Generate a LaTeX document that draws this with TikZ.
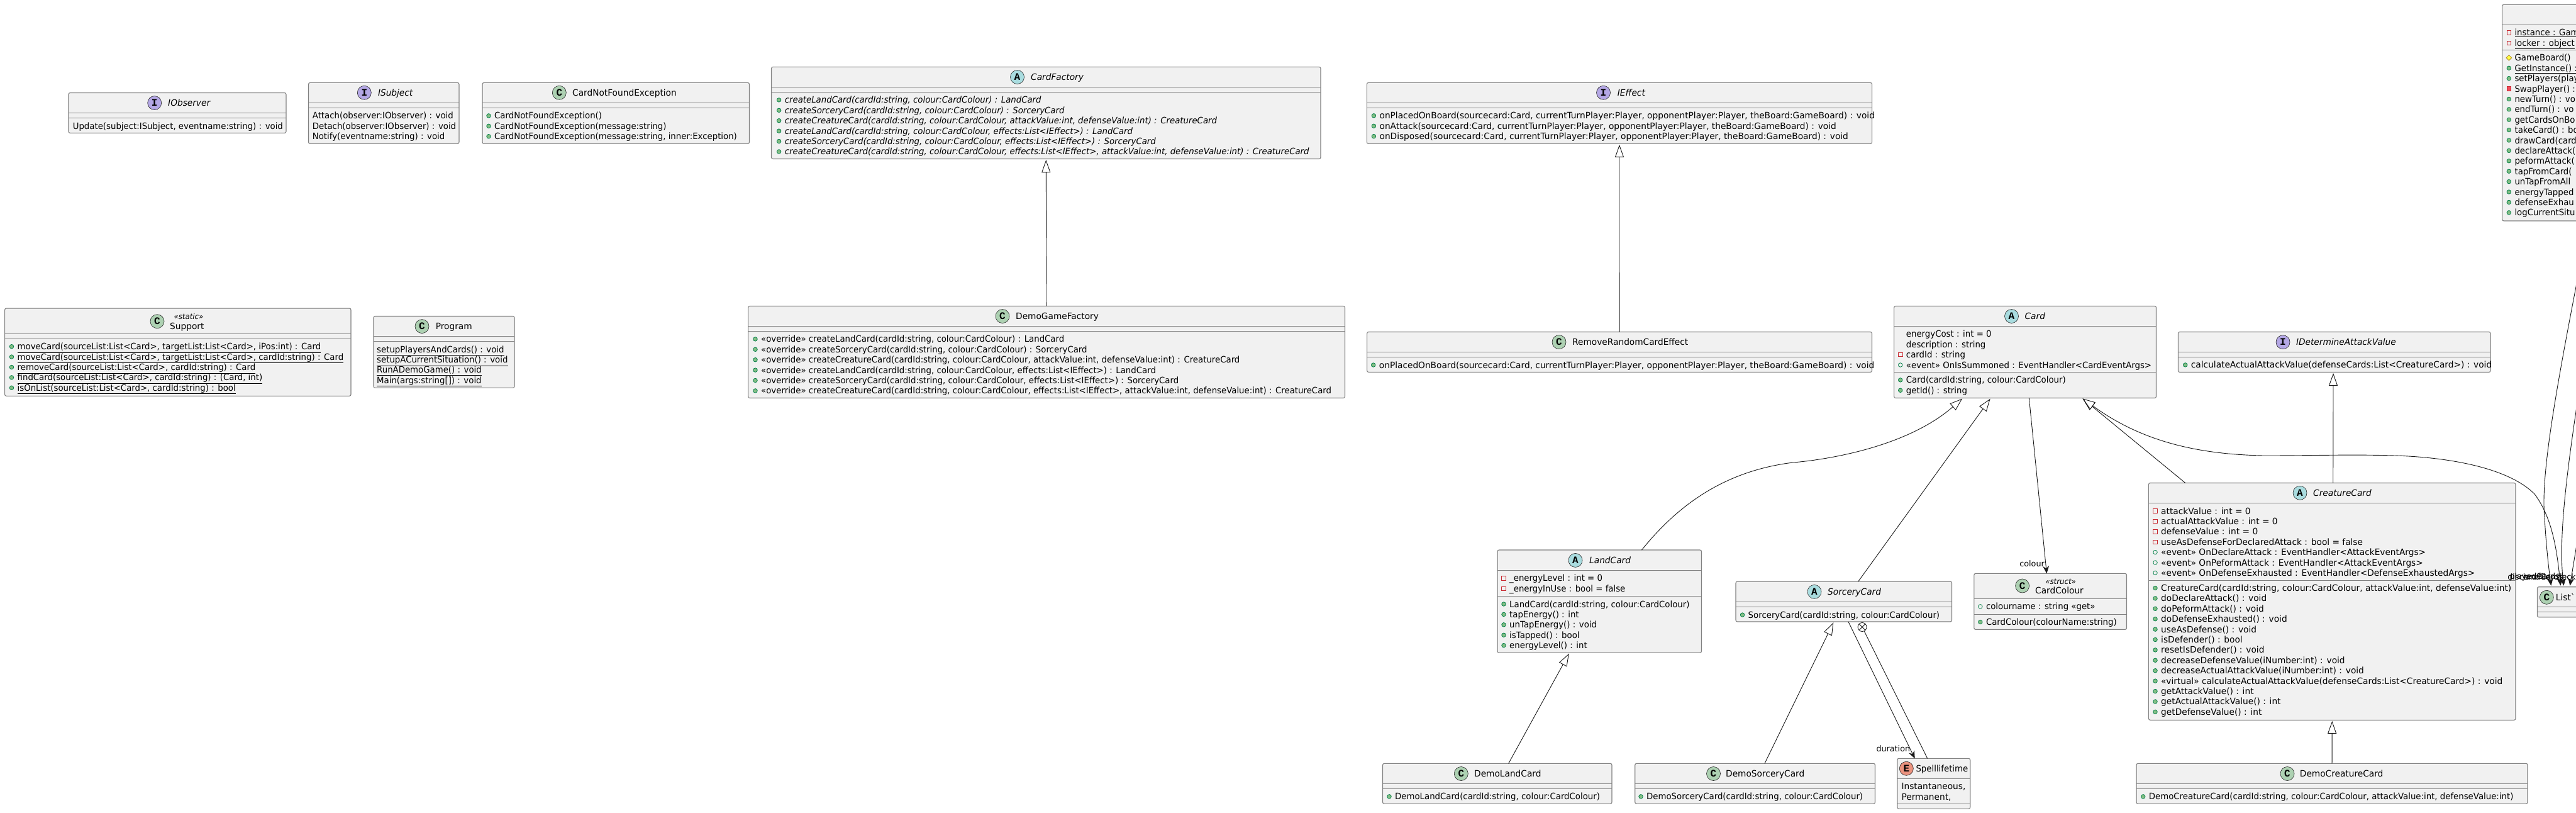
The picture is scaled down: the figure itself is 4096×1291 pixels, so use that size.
\documentclass[tikz,border=0pt]{standalone}
\usepackage{fontspec}
\setmainfont[FakeStretch=0.98]{DejaVu Sans}
\newfontfamily\narrowfont[FakeStretch=0.95]{DejaVu Sans}
\setmonofont{Liberation Mono}
\usetikzlibrary{calc,arrows.meta,shapes.geometric}

\tikzset{
    classnode/.style={draw=black!50, fill=black!5.5, line width=1.1pt, rounded corners=2.5pt, inner sep=0pt, outer sep=0pt, anchor=north west},
    classline/.style={draw=black!50, line width=1pt},
    badge/.style={circle, draw=black!85, line width=.6pt, minimum size=22pt, inner sep=0pt, font=\fontsize{16}{16}\selectfont\ttfamily\bfseries},
    badgeC/.style={badge, fill=BadgeC},
    badgeA/.style={badge, fill=BadgeA},
    badgeI/.style={badge, fill=BadgeI},
    badgeE/.style={badge, fill=BadgeE},
    rowtext/.style={anchor=base west, inner sep=0pt, font=\fontsize{14}{16}\selectfont},
    slanted/.style={font=\fontsize{14}{16}\selectfont\itshape},
    narrow/.style={font=\fontsize{14}{16}\narrowfont},
    narrowslanted/.style={font=\fontsize{14}{16}\narrowfont\itshape},
    stereo/.style={anchor=center, inner sep=0pt, font=\fontsize{12}{14}\selectfont\itshape},
    linklabel/.style={inner sep=0pt, font=\fontsize{13}{15}\selectfont},
    vpubm/.style={circle, draw=PubEdge, fill=PubFill, line width=.8pt, minimum size=6.5pt, inner sep=0pt},
    vpubf/.style={circle, draw=PubEdge, line width=.8pt, minimum size=6.5pt, inner sep=0pt},
    vprif/.style={rectangle, draw=PriEdge, line width=.8pt, minimum size=6.5pt, inner sep=0pt},
    vprim/.style={rectangle, draw=PriEdge, fill=PriFill, line width=.8pt, minimum size=6.5pt, inner sep=0pt},
    vprom/.style={diamond, draw=ProEdge, fill=ProFill, line width=.8pt, minimum size=9pt, inner sep=0pt},
    vnil/.style={draw=none, fill=none, minimum size=1pt, inner sep=0pt},
    nestmark/.style={circle, draw=black!90, fill=white, line width=.8pt, minimum size=14pt, inner sep=0pt,
        path picture={
            \draw[line width=.8pt] (path picture bounding box.north west) -- (path picture bounding box.south east);
            \draw[line width=.8pt] (path picture bounding box.north east) -- (path picture bounding box.south west);
        }},
    link/.style={draw=black!90, line width=.9pt},
    gentip/.tip={Triangle[open, length=20pt, width=14pt, fill=white]},
    veetip/.tip={Stealth[length=12pt, width=10pt, inset=4pt]},
}
\definecolor{BadgeC}{HTML}{ADD1B2}
\definecolor{BadgeA}{HTML}{A9DCDF}
\definecolor{BadgeI}{HTML}{B4A7E5}
\definecolor{BadgeE}{HTML}{EB937F}
\definecolor{PubEdge}{HTML}{038048}
\definecolor{PubFill}{HTML}{84BE84}
\definecolor{PriEdge}{HTML}{C82930}
\definecolor{PriFill}{HTML}{F24D5C}
\definecolor{ProEdge}{HTML}{B38D22}
\definecolor{ProFill}{HTML}{FFFF44}

% name, left, top, right, bottom, first line, second line
\newcommand{\classbox}[7]{
    \node[classnode, minimum width={(#4-#2)*1pt}, minimum height={(#5-#3)*1pt}] (#1) at (#2,#3) {};
    \draw[classline] (#1.west |- 0,#6) -- (#1.east |- 0,#6);
    \draw[classline] (#1.west |- 0,#7) -- (#1.east |- 0,#7);
}
% name, badge style, letter, badge at, title at, title style, title
\newcommand{\classhead}[7]{
    \node[#2] (#1Badge) at #4 {#3};
    \node[rowtext, #6] (#1Title) at #5 {#7};
}
% prefix, text x, line above, text style, list of icon/text
\newcommand{\classrows}[5]{
    \foreach \vis/\txt [count=\rownum] in {#5} {
        \node[rowtext, #4] (#1Row\rownum) at (#2,{#3+17.5+(\rownum-1)*16.4}) {\txt};
        \node[\vis] (#1Icon\rownum) at ({#2-9},{#3+12.5+(\rownum-1)*16.4}) {};
    }
}

\begin{document}
\begin{tikzpicture}[x=1pt, y=-1pt]
    \useasboundingbox (0,0) rectangle (4096,1291);
    \clip (0,0) rectangle (4096,1291);

    \classbox{IObserver}{109}{147.5}{455}{211.4}{179.3}{187.5}
    \classhead{IObserver}{badgeI}{I}{(245.7,163.6)}{(267,168.4)}{slanted}{IObserver}
    \classrows{IObserver}{115.6}{187.5}{narrow}{vnil/{Update(subject:ISubject, eventname:string) : void}}

    \classbox{ISubject}{490.5}{131.4}{730}{228.3}{163.3}{171.4}
    \classhead{ISubject}{badgeI}{I}{(579.3,147.3)}{(600.8,152.1)}{slanted}{ISubject}
    \classrows{ISubject}{496.7}{171.4}{narrow}{
        vnil/{Attach(observer:IObserver) : void},
        vnil/{Detach(observer:IObserver) : void},
        vnil/{Notify(eventname:string) : void}}

    \classbox{CardNotFoundException}{767}{131.4}{1191.5}{228.3}{163.3}{171.4}
    \classhead{CardNotFoundException}{badgeC}{C}{(889.3,147.3)}{(910,152.1)}{}{CardNotFoundException}
    \classrows{CardNotFoundException}{786}{171.4}{narrow}{
        vpubm/{CardNotFoundException()},
        vpubm/{CardNotFoundException(message:string)},
        vpubm/{CardNotFoundException(message:string, inner:Exception)}}

    \classbox{Support}{7.6}{490}{558}{629.3}{530}{538.2}
    \classhead{Support}{badgeC}{C}{(250,510.7)}{(270,523.4)}{}{Support}
    \node[stereo] (SupportStereo) at (300,503) {«static»};
    \classrows{Support}{27.5}{538.2}{narrow}{
        vpubm/{\underline{moveCard(sourceList:List<Card>, targetList:List<Card>, iPos:int) : Card}},
        vpubm/{\underline{moveCard(sourceList:List<Card>, targetList:List<Card>, cardId:string) : Card}},
        vpubm/{\underline{removeCard(sourceList:List<Card>, cardId:string) : Card}},
        vpubm/{\underline{findCard(sourceList:List<Card>, cardId:string) : (Card, int)}},
        vpubm/{\underline{isOnList(sourceList:List<Card>, cardId:string) : bool}}}

    \classbox{Program}{594}{502.5}{818}{616.4}{534}{542.5}
    \classhead{Program}{badgeC}{C}{(671,518.6)}{(692.6,523.4)}{}{Program}
    \classrows{Program}{599}{542.5}{narrow}{
        vnil/{\underline{setupPlayersAndCards() : void}},
        vnil/{\underline{setupACurrentSituation() : void}},
        vnil/{\underline{RunADemoGame() : void}},
        vnil/{\underline{Main(args:string[]) : void}}}

    \classbox{CardFactory}{1226.5}{106.4}{2100}{252.5}{138.3}{146.4}
    \classhead{CardFactory}{badgeA}{A}{(1617.5,122.5)}{(1639,127.3)}{slanted}{CardFactory}
    \classrows{CardFactory}{1247.6}{146.4}{narrowslanted}{
        vpubm/{createLandCard(cardId:string, colour:CardColour) : LandCard},
        vpubm/{createSorceryCard(cardId:string, colour:CardColour) : SorceryCard},
        vpubm/{createCreatureCard(cardId:string, colour:CardColour, attackValue:int, defenseValue:int) : CreatureCard},
        vpubm/{createLandCard(cardId:string, colour:CardColour, effects:List<IEffect>) : LandCard},
        vpubm/{createSorceryCard(cardId:string, colour:CardColour, effects:List<IEffect>) : SorceryCard},
        vpubm/{createCreatureCard(cardId:string, colour:CardColour, effects:List<IEffect>, attackValue:int, defenseValue:int) : CreatureCard}}

    \classbox{DemoGameFactory}{1189.6}{486.4}{2138.5}{632.5}{518.3}{526.4}
    \classhead{DemoGameFactory}{badgeC}{C}{(1594,502.5)}{(1615,507.3)}{}{DemoGameFactory}
    \classrows{DemoGameFactory}{1210}{526.4}{narrow}{
        vpubm/{«override» createLandCard(cardId:string, colour:CardColour) : LandCard},
        vpubm/{«override» createSorceryCard(cardId:string, colour:CardColour) : SorceryCard},
        vpubm/{«override» createCreatureCard(cardId:string, colour:CardColour, attackValue:int, defenseValue:int) : CreatureCard},
        vpubm/{«override» createLandCard(cardId:string, colour:CardColour, effects:List<IEffect>) : LandCard},
        vpubm/{«override» createSorceryCard(cardId:string, colour:CardColour, effects:List<IEffect>) : SorceryCard},
        vpubm/{«override» createCreatureCard(cardId:string, colour:CardColour, effects:List<IEffect>, attackValue:int, defenseValue:int) : CreatureCard}}

    \classbox{IEffect}{2173.3}{131.4}{2976.6}{228.3}{163.3}{171.3}
    \classhead{IEffect}{badgeI}{I}{(2549.5,147.3)}{(2571.7,152.1)}{slanted}{IEffect}
    \classrows{IEffect}{2193.4}{171.3}{}{
        vpubm/{onPlacedOnBoard(sourcecard:Card, currentTurnPlayer:Player, opponentPlayer:Player, theBoard:GameBoard) : void},
        vpubm/{onAttack(sourcecard:Card, currentTurnPlayer:Player, opponentPlayer:Player, theBoard:GameBoard) : void},
        vpubm/{onDisposed(sourcecard:Card, currentTurnPlayer:Player, opponentPlayer:Player, theBoard:GameBoard) : void}}

    \classbox{RemoveRandomCardEffect}{2173.6}{527.5}{2976.5}{591.4}{559.3}{567.5}
    \classhead{RemoveRandomCardEffect}{badgeC}{C}{(2479,543.6)}{(2500,548.4)}{}{RemoveRandomCardEffect}
    \classrows{RemoveRandomCardEffect}{2192.7}{567.5}{}{
        vpubm/{onPlacedOnBoard(sourcecard:Card, currentTurnPlayer:Player, opponentPlayer:Player, theBoard:GameBoard) : void}}

    \classbox{Card}{3011.6}{486.4}{3428.5}{632.5}{518.3}{591.4}
    \classhead{Card}{badgeA}{A}{(3198.5,502.5)}{(3219.4,507.3)}{slanted}{Card}
    \classrows{CardField}{3030.7}{518.3}{narrow}{
        vnil/{energyCost : int = 0},
        vnil/{description : string},
        vprif/{cardId : string},
        vpubf/{«event» OnIsSummoned : EventHandler<CardEventArgs>}}
    \classrows{CardMethod}{3030.7}{591.4}{narrow}{
        vpubm/{Card(cardId:string, colour:CardColour)},
        vpubm/{getId() : string}}

    \classbox{IDetermineAttackValue}{3463.4}{527.5}{3960}{591.5}{559.4}{567.4}
    \classhead{IDetermineAttackValue}{badgeI}{I}{(3630,543.7)}{(3650.8,548.5)}{slanted}{IDetermineAttackValue}
    \classrows{IDetermineAttackValue}{3483.7}{567.4}{}{
        vpubm/{calculateActualAttackValue(defenseCards:List<CreatureCard>) : void}}

    \classbox{CreatureCard}{3416.4}{767.5}{4000}{1144.3}{799.5}{922}
    \classhead{CreatureCard}{badgeA}{A}{(3657,783.3)}{(3678,788.1)}{slanted}{CreatureCard}
    \classrows{CreatureField}{3436}{799.5}{}{
        vprif/{attackValue : int = 0},
        vprif/{actualAttackValue : int = 0},
        vprif/{defenseValue : int = 0},
        vprif/{useAsDefenseForDeclaredAttack : bool = false},
        vpubf/{«event» OnDeclareAttack : EventHandler<AttackEventArgs>},
        vpubf/{«event» OnPeformAttack : EventHandler<AttackEventArgs>},
        vpubf/{«event» OnDefenseExhausted : EventHandler<DefenseExhaustedArgs>}}
    \classrows{CreatureMethod}{3436}{922}{}{
        vpubm/{CreatureCard(cardId:string, colour:CardColour, attackValue:int, defenseValue:int)},
        vpubm/{doDeclareAttack() : void},
        vpubm/{doPeformAttack() : void},
        vpubm/{doDefenseExhausted() : void},
        vpubm/{useAsDefense() : void},
        vpubm/{isDefender() : bool},
        vpubm/{resetIsDefender() : void},
        vpubm/{decreaseDefenseValue(iNumber:int) : void},
        vpubm/{decreaseActualAttackValue(iNumber:int) : void},
        vpubm/{«virtual» calculateActualAttackValue(defenseCards:List<CreatureCard>) : void},
        vpubm/{getAttackValue() : int},
        vpubm/{getActualAttackValue() : int},
        vpubm/{getDefenseValue() : int}}

    \classbox{LandCard}{2381}{874}{2705.5}{1037.3}{906.4}{947.5}
    \classhead{LandCard}{badgeA}{A}{(2505,890.4)}{(2527,895.2)}{slanted}{LandCard}
    \classrows{LandField}{2400}{906.4}{narrow}{
        vprif/{\_energyLevel : int = 0},
        vprif/{\_energyInUse : bool = false}}
    \classrows{LandMethod}{2400}{947.5}{narrow}{
        vpubm/{LandCard(cardId:string, colour:CardColour)},
        vpubm/{tapEnergy() : int},
        vpubm/{unTapEnergy() : void},
        vpubm/{isTapped() : bool},
        vpubm/{energyLevel() : int}}

    \classbox{SorceryCard}{2760}{924}{3103.5}{988}{956.4}{964.6}
    \classhead{SorceryCard}{badgeA}{A}{(2885,940.4)}{(2906,945.2)}{slanted}{SorceryCard}
    \classrows{SorceryCard}{2779.5}{964.6}{narrow}{vpubm/{SorceryCard(cardId:string, colour:CardColour)}}

    \classbox{CardColour}{3138.8}{911.4}{3381.5}{1000.4}{951.3}{976}
    \classhead{CardColour}{badgeC}{C}{(3215.6,931)}{(3236,943.6)}{}{CardColour}
    \node[stereo] (CardColourStereo) at (3276.6,924) {«struct»};
    \classrows{CardColourField}{3157.8}{951.3}{narrow}{vpubf/{colourname : string «get»}}
    \classrows{CardColourMethod}{3157.8}{976}{narrow}{vpubm/{CardColour(colourName:string)}}

    \classbox{DemoLandCard}{2198.5}{1213.3}{2563}{1277.3}{1245.3}{1253.3}
    \classhead{DemoLandCard}{badgeC}{C}{(2323.3,1229.5)}{(2344,1234.3)}{}{DemoLandCard}
    \classrows{DemoLandCard}{2218}{1253.3}{narrow}{vpubm/{DemoLandCard(cardId:string, colour:CardColour)}}

    \classbox{DemoSorceryCard}{2599.7}{1213.3}{2981.5}{1277.3}{1245.3}{1253.3}
    \classhead{DemoSorceryCard}{badgeC}{C}{(2724.5,1229.5)}{(2744,1234.3)}{}{DemoSorceryCard}
    \classrows{DemoSorceryCard}{2618}{1253.3}{narrow}{vpubm/{DemoSorceryCard(cardId:string, colour:CardColour)}}

    \classbox{Spelllifetime}{3016.7}{1205.3}{3132.7}{1285.3}{1237.3}{1277.3}
    \classhead{Spelllifetime}{badgeE}{E}{(3031.3,1221.3)}{(3046.3,1226.1)}{narrow}{Spelllifetime}
    \classrows{Spelllifetime}{3023.3}{1237.3}{}{
        vnil/{Instantaneous,},
        vnil/{Permanent,}}

    \classbox{DemoCreatureCard}{3397}{1213.3}{4019}{1277.3}{1245.3}{1253.3}
    \classhead{DemoCreatureCard}{badgeC}{C}{(3637,1229.5)}{(3656.7,1234.3)}{}{DemoCreatureCard}
    \classrows{DemoCreatureCard}{3416.7}{1253.3}{narrow}{
        vpubm/{DemoCreatureCard(cardId:string, colour:CardColour, attackValue:int, defenseValue:int)}}

    \classbox{List}{4034.3}{932.7}{4200}{980.7}{964}{972.7}
    \classhead{List}{badgeC}{C}{(4049.3,949.3)}{(4063.7,954.1)}{}{List\textasciigrave}

    \classbox{GameBoard}{3978.6}{7.3}{4400}{351}{39.3}{79.3}
    \classrows{GameBoardField}{3998.3}{39.3}{narrow}{
        vprif/{\underline{instance : Gam}},
        vprif/{\underline{locker : object}}}
    \classrows{GameBoardMethod}{3998.3}{79.3}{narrow}{
        vprom/{GameBoard()},
        vpubm/{\underline{GetInstance() :}},
        vpubm/{setPlayers(play},
        vprim/{SwapPlayer() :},
        vpubm/{newTurn() : vo},
        vpubm/{endTurn() : vo},
        vpubm/{getCardsOnBo},
        vpubm/{takeCard() : bo},
        vpubm/{drawCard(card},
        vpubm/{declareAttack(},
        vpubm/{peformAttack(},
        vpubm/{tapFromCard(},
        vpubm/{unTapFromAll},
        vpubm/{energyTapped},
        vpubm/{defenseExhau},
        vpubm/{logCurrentSitu}}

    \draw[link, -gentip, shorten >=1.5pt] (DemoGameFactory.north) -- (CardFactory.south);
    \draw[link, -gentip, shorten >=1.5pt] (RemoveRandomCardEffect.north) -- (IEffect.south);
    \draw[link, -gentip, shorten >=1.5pt] ($(LandCard.north west)!.707!(LandCard.north east)$)
        .. controls (2670,800) and (2745,748) .. (2851,735)
        .. controls (2900,731) and (3030,712) .. ($(Card.south west)!.263!(Card.south east)$);
    \draw[link, -gentip, shorten >=1.5pt] ($(SorceryCard.north west)!.567!(SorceryCard.north east)$) -- ($(Card.south west)!.369!(Card.south east)$);
    \draw[link, -gentip, shorten >=1.5pt] ($(CreatureCard.north west)!.1!(CreatureCard.north east)$) -- ($(Card.south west)!.7165!(Card.south east)$);
    \draw[link, -gentip, shorten >=1.5pt] ($(CreatureCard.north west)!.5026!(CreatureCard.north east)$) -- ($(IDetermineAttackValue.south west)!.4966!(IDetermineAttackValue.south east)$);
    \draw[link, -gentip, shorten >=1.5pt] ($(DemoLandCard.north west)!.549!(DemoLandCard.north east)$) -- ($(LandCard.south west)!.353!(LandCard.south east)$);
    \draw[link, -gentip, shorten >=1.5pt] ($(DemoSorceryCard.north west)!.54!(DemoSorceryCard.north east)$) -- ($(SorceryCard.south west)!.454!(SorceryCard.south east)$);
    \draw[link, -gentip, shorten >=1.5pt] (DemoCreatureCard.north) -- (CreatureCard.south);

    \draw[link, -veetip] ($(Card.south west)!.515!(Card.south east)$) -- ($(CardColour.north west)!.476!(CardColour.north east)$);
    \node[linklabel, anchor=east] (colourLabel) at (3251,895.6) {colour};
    \draw[link, -veetip] ($(SorceryCard.south west)!.521!(SorceryCard.south east)$) -- ($(Spelllifetime.north west)!.241!(Spelllifetime.north east)$);
    \node[linklabel, anchor=east] (durationLabel) at (3037.3,1189.3) {duration};
    \node[nestmark] (SpellNest) at (2961,996.5) {};
    \draw[link] ($(Spelllifetime.north west)!.414!(Spelllifetime.north east)$) -- (SpellNest);

    % these come from beyond the right edge
    \coordinate (boardOutA) at (4100,435);
    \coordinate (boardOutB) at (4098,640);
    \coordinate (boardOutC) at (4098,860);
    \draw[link, -veetip, shorten >=2pt] (boardOutA) .. controls (4060,640) and (4040,760) .. (4046,823)
        .. controls (4048,860) and (4052,900) .. ($(List.north west)+(22.4,0)$);
    \draw[link, -veetip, shorten >=2pt] (boardOutB) .. controls (4080,760) and (4068,860) .. ($(List.north west)+(42.4,0)$);
    \draw[link, -veetip, shorten >=2pt] (boardOutC) -- ($(List.north west)+(51.7,0)$);
    \draw[link, gentip-veetip, shorten <=1.5pt, shorten >=2pt] ($(Card.south west)!.7165!(Card.south east)$)
        .. controls (3390,690) and (3470,722) .. (3600,724)
        .. controls (3680,724) and (3740,722) .. (3808,724)
        .. controls (3900,727) and (3990,745) .. (4030,785)
        .. controls (4060,825) and (4066,880) .. ($(List.north west)+(37.4,0)$);
    \node[linklabel, anchor=east] (deckLabelA) at (4056,916.7) {discardPile};
    \node[linklabel, anchor=east] (deckLabelB) at (4070,916.7) {playedCards};
    \node[linklabel, anchor=east] (deckLabelC) at (4076,916.7) {landCards};
    \node[linklabel, anchor=east] (deckLabelD) at (4096,916.7) {deck};
\end{tikzpicture}
\end{document}
